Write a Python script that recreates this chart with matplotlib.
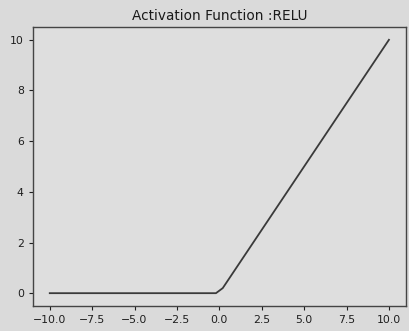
import matplotlib
matplotlib.use("Agg")
import matplotlib.pyplot as plt

x_vals = [-10.0, -0.2, 0.2, 10.0]
y_vals = [0.0, 0.0, 0.2, 10.0]

BG = "#dadada"
INK = "#1e1e1e"

fig = plt.figure(figsize=(4.10, 3.31), dpi=100, facecolor=BG)
ax = fig.add_axes([0.080, 0.076, 0.910, 0.842], facecolor="#dedede")
ax.plot(x_vals, y_vals, color="#3a3a3a", lw=1.3)
ax.set_xticks([-10, -7.5, -5, -2.5, 0, 2.5, 5, 7.5, 10])
ax.set_xticklabels(["\u221210.0", "\u22127.5", "\u22125.0", "\u22122.5", "0.0", "2.5", "5.0", "7.5", "10.0"])
ax.set_yticks([0, 2, 4, 6, 8, 10])
ax.tick_params(labelsize=7.8, colors=INK, length=3)
for s in ax.spines.values():
    s.set_color("#444444")
    s.set_linewidth(1.0)
ax.set_title("Activation Function :RELU", fontsize=9.8, color="#1a1a1a", pad=5)
fig.savefig("out.png", dpi=100, facecolor=BG)
